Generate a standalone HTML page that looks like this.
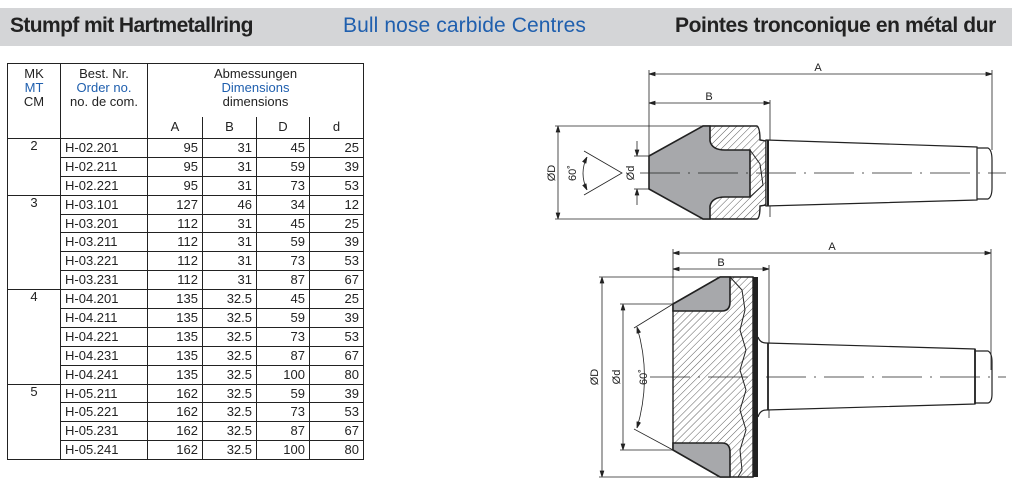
<!DOCTYPE html>
<html><head><meta charset="utf-8"><style>
body{margin:0;width:1016px;height:504px;background:#fff;position:relative;overflow:hidden;font-family:"Liberation Sans",Arial,sans-serif}
.hdr{position:absolute;left:0;top:8px;width:1012px;height:38px;background:#d4d5d7}
.hdr span{position:absolute;top:6px;font-size:21px;white-space:nowrap;letter-spacing:-0.3px}
table{position:absolute;left:7px;top:63px;width:356px;border-collapse:collapse;font-size:13px;color:#222;table-layout:fixed}
td{border:1.3px solid #222;padding:0 4px;line-height:14px}
tr.d{height:18.9px}
.r{text-align:right}.c{text-align:center}.b{color:#1f5fae}
</style></head><body>
<div class="hdr">
<span style="left:10px;font-weight:bold;color:#222;letter-spacing:-0.6px">Stumpf mit Hartmetallring</span>
<span style="left:343px;color:#1f5fae;letter-spacing:0.1px">Bull nose carbide Centres</span>
<span style="left:675px;font-weight:bold;color:#222;letter-spacing:-0.4px">Pointes tronconique en métal dur</span>
</div>
<table>
<colgroup><col style="width:53px"><col style="width:87px"><col style="width:55px"><col style="width:54px"><col style="width:53px"><col style="width:54px"></colgroup>
<tr style="height:53px"><td rowspan="2" class="c" style="vertical-align:top;padding-top:3px">MK<br><span class="b">MT</span><br>CM</td>
<td rowspan="2" class="c" style="vertical-align:top;padding-top:3px">Best. Nr.<br><span class="b">Order no.</span><br>no. de com.</td>
<td colspan="4" class="c" style="border-bottom:none;padding-top:3px;vertical-align:top">Abmessungen<br><span class="b">Dimensions</span><br>dimensions</td></tr>
<tr style="height:22px"><td class="c" style="border-top:none">A</td><td class="c" style="border-top:none">B</td><td class="c" style="border-top:none">D</td><td class="c" style="border-top:none">d</td></tr>
<tr class="d"><td rowspan="3" class="c" style="vertical-align:top">2</td><td>H-02.201</td><td class="r">95</td><td class="r">31</td><td class="r">45</td><td class="r">25</td></tr>
<tr class="d"><td>H-02.211</td><td class="r">95</td><td class="r">31</td><td class="r">59</td><td class="r">39</td></tr>
<tr class="d"><td>H-02.221</td><td class="r">95</td><td class="r">31</td><td class="r">73</td><td class="r">53</td></tr>
<tr class="d"><td rowspan="5" class="c" style="vertical-align:top">3</td><td>H-03.101</td><td class="r">127</td><td class="r">46</td><td class="r">34</td><td class="r">12</td></tr>
<tr class="d"><td>H-03.201</td><td class="r">112</td><td class="r">31</td><td class="r">45</td><td class="r">25</td></tr>
<tr class="d"><td>H-03.211</td><td class="r">112</td><td class="r">31</td><td class="r">59</td><td class="r">39</td></tr>
<tr class="d"><td>H-03.221</td><td class="r">112</td><td class="r">31</td><td class="r">73</td><td class="r">53</td></tr>
<tr class="d"><td>H-03.231</td><td class="r">112</td><td class="r">31</td><td class="r">87</td><td class="r">67</td></tr>
<tr class="d"><td rowspan="5" class="c" style="vertical-align:top">4</td><td>H-04.201</td><td class="r">135</td><td class="r">32.5</td><td class="r">45</td><td class="r">25</td></tr>
<tr class="d"><td>H-04.211</td><td class="r">135</td><td class="r">32.5</td><td class="r">59</td><td class="r">39</td></tr>
<tr class="d"><td>H-04.221</td><td class="r">135</td><td class="r">32.5</td><td class="r">73</td><td class="r">53</td></tr>
<tr class="d"><td>H-04.231</td><td class="r">135</td><td class="r">32.5</td><td class="r">87</td><td class="r">67</td></tr>
<tr class="d"><td>H-04.241</td><td class="r">135</td><td class="r">32.5</td><td class="r">100</td><td class="r">80</td></tr>
<tr class="d"><td rowspan="4" class="c" style="vertical-align:top">5</td><td>H-05.211</td><td class="r">162</td><td class="r">32.5</td><td class="r">59</td><td class="r">39</td></tr>
<tr class="d"><td>H-05.221</td><td class="r">162</td><td class="r">32.5</td><td class="r">73</td><td class="r">53</td></tr>
<tr class="d"><td>H-05.231</td><td class="r">162</td><td class="r">32.5</td><td class="r">87</td><td class="r">67</td></tr>
<tr class="d"><td>H-05.241</td><td class="r">162</td><td class="r">32.5</td><td class="r">100</td><td class="r">80</td></tr>
</table>
<svg width="1016" height="504" style="position:absolute;left:0;top:0" font-family="Liberation Sans, sans-serif" font-size="11" fill="none" stroke="#222">
<defs>
<pattern id="h" width="5" height="5" patternUnits="userSpaceOnUse" patternTransform="rotate(45)"><line x1="0" y1="0" x2="0" y2="5" stroke="#333" stroke-width="0.8"/></pattern>
<marker id="a" markerWidth="8" markerHeight="6" refX="8" refY="3" orient="auto-start-reverse"><path d="M0,0.5 L8,3 L0,5.5" stroke="#222" stroke-width="0.8" fill="#222"/></marker>
</defs>
<g stroke-width="0.8">
<line x1="649" y1="70" x2="649" y2="156"/><line x1="992" y1="70" x2="992" y2="150"/>
<line x1="649" y1="74" x2="992" y2="74" marker-start="url(#a)" marker-end="url(#a)"/>
<line x1="770" y1="100" x2="770" y2="217"/>
<line x1="649" y1="103" x2="770" y2="103" marker-start="url(#a)" marker-end="url(#a)"/>
<line x1="555" y1="126" x2="703" y2="126"/><line x1="555" y1="219" x2="703" y2="219"/>
<line x1="558" y1="126" x2="558" y2="219" marker-start="url(#a)" marker-end="url(#a)"/>
<line x1="634" y1="156" x2="649" y2="156"/><line x1="634" y1="189" x2="649" y2="189"/>
<line x1="637" y1="141" x2="637" y2="156" marker-end="url(#a)"/><line x1="637" y1="205" x2="637" y2="189" marker-end="url(#a)"/>
<path d="M584,151 L622,173 L584,195"/>
<path d="M587,157 Q579,173 587,190" marker-start="url(#a)" marker-end="url(#a)"/>
</g>
<g fill="#222" stroke="none">
<text x="818" y="71" text-anchor="middle">A</text><text x="709" y="100" text-anchor="middle">B</text>
<text transform="translate(555,173) rotate(-90)" text-anchor="middle">ØD</text>
<text transform="translate(576,173) rotate(-90)" text-anchor="middle">60˚</text>
<text transform="translate(634,173) rotate(-90)" text-anchor="middle">Ød</text>
</g>
<path d="M703,126 L757,126 Q760,128 760,140 L766,141 L766,205 L760,206 Q760,218 757,219 L703,219 Z" fill="url(#h)" stroke-width="1.4"/>
<path d="M649,156 L703,126 L710,126 L710,141 Q712,150 725,150 L750,150 L750,197 L725,197 Q712,197 710,206 L710,219 L703,219 L649,189 Z" fill="#a7a8ab" stroke-width="1.6"/>
<path d="M750,150 L760,164 L763,185 L750,197" stroke-width="1"/>
<path d="M766,140 L977,147 L977,200 L766,206 Z" fill="#fff" stroke-width="1.2"/>
<line x1="768" y1="140" x2="768" y2="206" stroke-width="2"/>
<path d="M977,148 L988,148 Q992,150 992,160 L992,188 Q992,197 988,199 L977,199" stroke-width="1.2"/>
<line x1="640" y1="173" x2="1006" y2="173" stroke-width="0.8" stroke-dasharray="40,8,2,8"/>
<g stroke-width="0.8">
<line x1="673" y1="249" x2="673" y2="304"/><line x1="991" y1="249" x2="991" y2="370"/>
<line x1="673" y1="253" x2="991" y2="253" marker-start="url(#a)" marker-end="url(#a)"/>
<line x1="769" y1="265" x2="769" y2="418"/>
<line x1="673" y1="269" x2="769" y2="269" marker-start="url(#a)" marker-end="url(#a)"/>
<line x1="599" y1="277" x2="720" y2="277"/><line x1="599" y1="477" x2="720" y2="477"/>
<line x1="602" y1="277" x2="602" y2="477" marker-start="url(#a)" marker-end="url(#a)"/>
<line x1="620" y1="304" x2="673" y2="304"/><line x1="620" y1="450" x2="673" y2="450"/>
<line x1="623" y1="304" x2="623" y2="450" marker-start="url(#a)" marker-end="url(#a)"/>
<line x1="673" y1="304" x2="634" y2="328"/><line x1="673" y1="450" x2="634" y2="429"/>
<path d="M637,327 Q652,377 637,428" marker-start="url(#a)" marker-end="url(#a)"/>
</g>
<g fill="#222" stroke="none">
<text x="832" y="250" text-anchor="middle">A</text><text x="721" y="266" text-anchor="middle">B</text>
<text transform="translate(598,377) rotate(-90)" text-anchor="middle">ØD</text>
<text transform="translate(620,377) rotate(-90)" text-anchor="middle">Ød</text>
<text transform="translate(647,377) rotate(-90)" text-anchor="middle">60˚</text>
</g>
<path d="M673,304 L720,277 L753,277 L753,477 L720,477 L673,450 Z" fill="url(#h)" stroke-width="1.4"/>
<path d="M673,304 L720,277 L730,277 L730,302 Q730,311 722,311 L673,311 Z" fill="#a7a8ab" stroke-width="1.6"/>
<path d="M673,450 L720,477 L730,477 L730,452 Q730,443 722,443 L673,443 Z" fill="#a7a8ab" stroke-width="1.6"/>
<path d="M730,277 L742,290 L745,310 L740,330 L746,350 L740,370 L746,390 L740,410 L746,430 L740,450 L742,470 L738,477" stroke-width="1"/>
<rect x="753" y="277" width="5" height="200" fill="#222" stroke="none"/>
<path d="M758,337 Q760,343 766,343 L975,349 L975,404 L766,410 Q760,410 758,417" fill="#fff" stroke-width="1.2"/>
<line x1="768" y1="343" x2="768" y2="410" stroke-width="1.8"/>
<line x1="975" y1="349" x2="975" y2="404" stroke-width="1.8"/>
<path d="M975,351 L988,351 Q992,353 992,362 L992,394 Q992,402 988,403 L975,403" stroke-width="1.2"/>
<line x1="650" y1="377" x2="1006" y2="377" stroke-width="0.8" stroke-dasharray="40,8,2,8"/>
</svg>
</body></html>
